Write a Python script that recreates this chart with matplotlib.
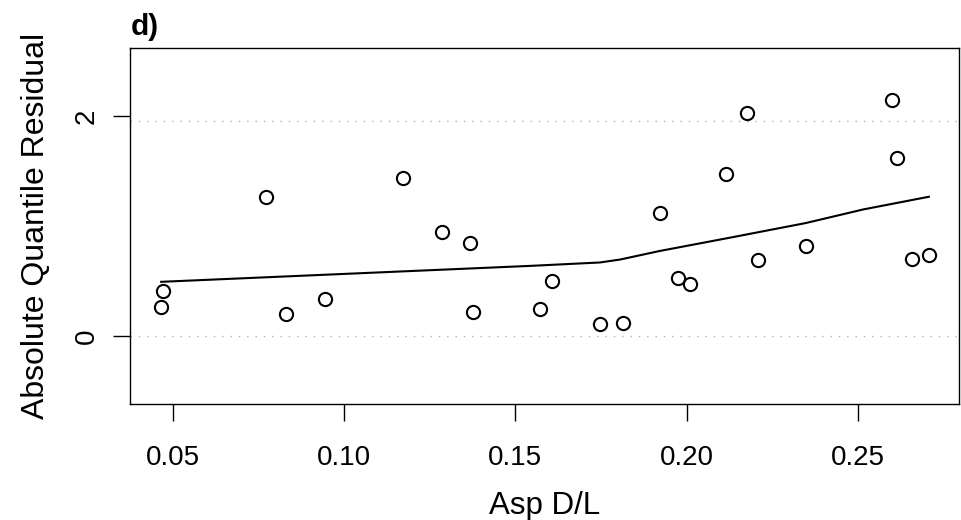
import matplotlib
matplotlib.use("Agg")
import matplotlib.pyplot as plt

plt.rcParams['font.family'] = ['Liberation Sans', 'DejaVu Sans']

# Data
asp_dl = [0.0470, 0.0466, 0.0772, 0.0829, 0.0944, 0.1173, 0.1286, 0.1368,
          0.1376, 0.1573, 0.1607, 0.1746, 0.1813, 0.1922, 0.1974, 0.2009,
          0.2116, 0.2176, 0.2208, 0.2348, 0.2600, 0.2615, 0.2657, 0.2707]
abs_resid = [0.408, 0.260, 1.266, 0.197, 0.338, 1.441, 0.945, 0.846,
             0.220, 0.245, 0.496, 0.109, 0.121, 1.115, 0.523, 0.471,
             1.471, 2.030, 0.689, 0.822, 2.148, 1.616, 0.698, 0.737]

smooth_x = [0.0466, 0.1543, 0.1747, 0.1806, 0.1922, 0.2127, 0.2348, 0.2516, 0.2707]
smooth_y = [0.492, 0.637, 0.668, 0.695, 0.773, 0.894, 1.027, 1.151, 1.266]

ref_lines = [0.0, 1.96]
xticks = [0.05, 0.10, 0.15, 0.20, 0.25]
xtick_labels = ["0.05", "0.10", "0.15", "0.20", "0.25"]
yticks = [0, 2]
ytick_labels = ["0", "2"]

W, H = 961, 520
fig = plt.figure(figsize=(W / 100, H / 100), dpi=100)
left, right, top, bottom = 130, 959.3, 48, 404
ax = fig.add_axes([left / W, 1 - bottom / H, (right - left) / W, (bottom - top) / H])

for yv in ref_lines:
    ax.axhline(yv, color='#b0b0b0', lw=1.0, dashes=(1.0, 5.0), zorder=1)

ax.plot(asp_dl, abs_resid, linestyle='none', marker='o', ms=9.5, mfc='none',
        mec='black', mew=1.5, zorder=3)
ax.plot(smooth_x, smooth_y, color='black', lw=1.5, zorder=2)

ax.set_xlim(0.0375, 0.2796)
ax.set_ylim(-0.62, 2.62)

ax.set_xticks(xticks)
ax.set_xticklabels(xtick_labels)
ax.set_yticks(yticks)
ax.set_yticklabels(ytick_labels, rotation=90, va='center')

ax.tick_params(axis='both', direction='out', length=12, width=1, labelsize=20,
               colors='black')
ax.tick_params(axis='x', pad=17.5)
ax.tick_params(axis='y', pad=10)

for s in ax.spines.values():
    s.set_linewidth(1.0)

ax.set_xlabel("Asp D/L", fontsize=22.5, labelpad=14.5)
ax.set_ylabel("Absolute Quantile Residual", fontsize=23, labelpad=16)

fig.text(131 / W, 1 - 35 / H, "d)", fontsize=21.5, fontweight='bold',
         ha='left', va='baseline')

fig.savefig("out.png", dpi=100)
